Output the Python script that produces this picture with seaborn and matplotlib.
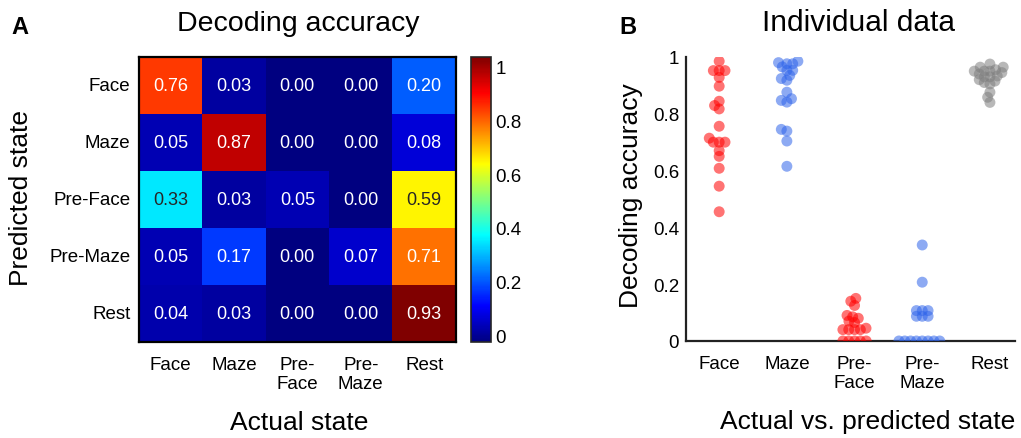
import numpy as np
import pandas as pd
import seaborn as sns
import matplotlib as mpl
import matplotlib.pyplot as plt
from matplotlib.colors import LinearSegmentedColormap

# states shown on both panels
states = ['Face', 'Maze', 'Pre-Face', 'Pre-Maze', 'Rest']
tick_labels = ['Face', 'Maze', 'Pre-\nFace', 'Pre-\nMaze', 'Rest']

# panel A: mean decoding accuracy (rows = predicted, cols = actual)
acc_face = [0.76, 0.03, 0.00, 0.00, 0.20]
acc_maze = [0.05, 0.87, 0.00, 0.00, 0.08]
acc_preface = [0.33, 0.03, 0.05, 0.00, 0.59]
acc_premaze = [0.05, 0.17, 0.00, 0.07, 0.71]
acc_rest = [0.04, 0.03, 0.00, 0.00, 0.93]

# panel B: per-subject accuracy
ind_face = [0.985, 0.952, 0.952, 0.952, 0.928, 0.897, 0.844, 0.829, 0.817, 0.756,
            0.714, 0.70, 0.70, 0.70, 0.67, 0.65, 0.608, 0.545, 0.455]
ind_maze = [0.985, 0.98, 0.976, 0.976, 0.965, 0.953, 0.953, 0.935, 0.924, 0.918,
            0.876, 0.853, 0.847, 0.841, 0.745, 0.739, 0.704, 0.615]
ind_preface = [0.15, 0.14, 0.125, 0.09, 0.085, 0.08, 0.07, 0.065, 0.045, 0.04,
               0.04, 0.04, 0.04, 0.0, 0.0, 0.0, 0.0, 0.0]
ind_premaze = [0.338, 0.207, 0.107, 0.107, 0.107, 0.087, 0.087, 0.087,
               0.0, 0.0, 0.0, 0.0, 0.0, 0.0, 0.0, 0.0]
ind_rest = [0.975, 0.964, 0.964, 0.955, 0.95, 0.95, 0.95, 0.945, 0.94, 0.933,
            0.93, 0.93, 0.92, 0.915, 0.91, 0.905, 0.876, 0.858, 0.84]

colors = {'Face': '#ff0000', 'Maze': '#2f64ea', 'Pre-Face': '#ff0000',
          'Pre-Maze': '#2f64ea', 'Rest': '#7f7f7f'}

# matlab style jet (pure yellow/cyan at 5/8 and 3/8)
matlab_jet = LinearSegmentedColormap.from_list('matlab_jet', [
    (0.0, (0, 0, 0.5)), (1 / 8, (0, 0, 1)), (3 / 8, (0, 1, 1)),
    (5 / 8, (1, 1, 0)), (7 / 8, (1, 0, 0)), (1.0, (0.5, 0, 0))])

sns.set_style('white')
plt.rcParams['font.family'] = ['Liberation Sans', 'DejaVu Sans']
plt.rcParams['text.color'] = 'black'
plt.rcParams['axes.labelcolor'] = 'black'
plt.rcParams['xtick.color'] = 'black'
plt.rcParams['ytick.color'] = 'black'

fig = plt.figure(figsize=(10.21, 4.39), dpi=100)
ax_a = fig.add_axes([0.136, 0.2187, 0.3105, 0.649])
cax = fig.add_axes([0.4613, 0.2187, 0.0196, 0.649])
ax_b = fig.add_axes([0.6719, 0.221, 0.3222, 0.647])

# ---- panel A: heatmap
mat = pd.DataFrame([acc_face, acc_maze, acc_preface, acc_premaze, acc_rest],
                   index=states, columns=states)
sns.heatmap(mat, ax=ax_a, cmap=matlab_jet, vmin=0, vmax=0.93, annot=True, fmt='.2f',
            annot_kws={'size': 13}, cbar=False)
ax_a.set_xticklabels(tick_labels, rotation=0)
ax_a.set_yticklabels(states, rotation=0)
ax_a.tick_params(axis='x', length=0, labelsize=13.5, pad=10)
ax_a.tick_params(axis='y', length=0, labelsize=13.5, pad=6)
for sp in ax_a.spines.values():
    sp.set_visible(True)
    sp.set_color('black')
    sp.set_linewidth(1.6)
ax_a.set_ylabel('Predicted state', fontsize=19)
ax_a.yaxis.set_label_coords(-0.335, 0.51)
ax_a.set_xlabel('Actual state', fontsize=19)
ax_a.xaxis.set_label_coords(0.505, -0.24)

cb = fig.colorbar(mpl.cm.ScalarMappable(norm=mpl.colors.Normalize(-0.026, 1.037), cmap=matlab_jet),
                  cax=cax)
cb.set_ticks([0, 0.2, 0.4, 0.6, 0.8, 1.0])
cb.set_ticklabels(['0', '0.2', '0.4', '0.6', '0.8', '1'])
cax.tick_params(length=0, labelsize=13.5, pad=3)
cb.outline.set_linewidth(1.2)

# ---- panel B: individual swarm
ind = pd.DataFrame({
    'state': (['Face'] * len(ind_face) + ['Maze'] * len(ind_maze)
              + ['Pre-Face'] * len(ind_preface) + ['Pre-Maze'] * len(ind_premaze)
              + ['Rest'] * len(ind_rest)),
    'accuracy': ind_face + ind_maze + ind_preface + ind_premaze + ind_rest,
})
sns.swarmplot(data=ind, x='state', y='accuracy', hue='state', order=states,
              palette=colors, size=4, alpha=0.55, linewidth=0, legend=False, ax=ax_b)

ax_b.set_xlim(-0.49, 4.37)
ax_b.set_ylim(0, 1)

# swarm is laid out at draw time; fix the layout with small dots, then
# enlarge them so they overlap like the original beeswarm
fig.canvas.draw()
for coll in ax_b.collections:
    if 'draw' in coll.__dict__:
        del coll.draw
    coll.set_sizes([62])

ax_b.set_yticks([0, 0.2, 0.4, 0.6, 0.8, 1.0])
ax_b.set_yticklabels(['0', '0.2', '0.4', '0.6', '0.8', '1'])
ax_b.set_xticks(range(5))
ax_b.set_xticklabels(tick_labels)
ax_b.tick_params(direction='in', length=4, width=1.2, labelsize=13.5, color='black')
ax_b.tick_params(axis='x', pad=10)
ax_b.tick_params(axis='y', pad=5)
sns.despine(ax=ax_b)
for sp in ['left', 'bottom']:
    ax_b.spines[sp].set_color('#222222')
    ax_b.spines[sp].set_linewidth(1.6)
ax_b.set_ylabel('Decoding accuracy', fontsize=19)
ax_b.yaxis.set_label_coords(-0.131, 0.514)
ax_b.set_xlabel('Actual vs. predicted state', fontsize=19)
ax_b.xaxis.set_label_coords(0.553, -0.24)

# titles and panel letters
fig.text(298 / 1021, 1 - 24 / 439, 'Decoding accuracy', fontsize=20.5, ha='center', va='center')
fig.text(858 / 1021, 1 - 23 / 439, 'Individual data', fontsize=21.5, ha='center', va='center')
fig.text(20 / 1021, 1 - 28 / 439, 'A', fontsize=17, fontweight='bold', ha='center', va='center')
fig.text(628 / 1021, 1 - 28 / 439, 'B', fontsize=17, fontweight='bold', ha='center', va='center')

fig.savefig('out.png', dpi=100)
